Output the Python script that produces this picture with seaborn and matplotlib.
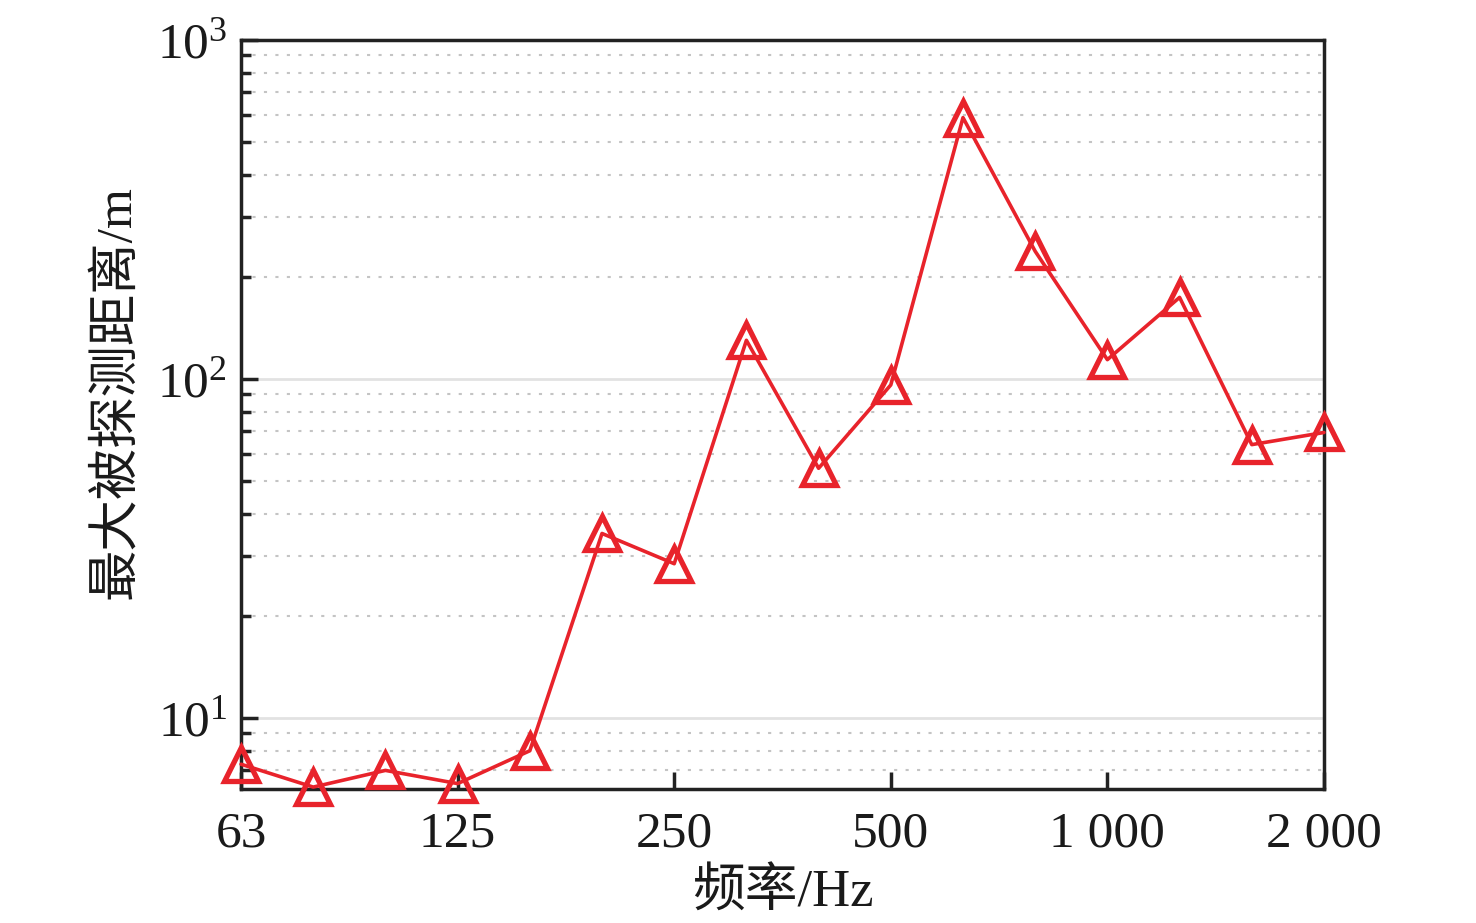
import numpy as np
import pandas as pd
import seaborn as sns
import matplotlib.pyplot as plt
from matplotlib.ticker import LogLocator, NullFormatter, FixedLocator, FixedFormatter

# DATA
freqs = ['63', '80', '100', '125', '160', '200', '250', '315', '400', '500',
         '630', '800', '1000', '1250', '1600', '2000']
distance = [7.3, 6.25, 7.0, 6.4, 8.0, 35, 28.5, 130, 54.5, 96,
            590, 238, 114, 174, 64, 69.5]
tick_pos = [0, 3, 6, 9, 12, 15]
tick_labels = ['63', '125', '250', '500', '1 000', '2 000']

df = pd.DataFrame({'idx': np.arange(len(freqs)), 'freq': freqs, 'dist': distance})

sns.set_style('white')
plt.rcParams['font.family'] = ['Liberation Serif', 'Noto Sans CJK SC']
plt.rcParams['mathtext.fontset'] = 'custom'
plt.rcParams['mathtext.rm'] = 'Liberation Serif'
plt.rcParams['mathtext.it'] = 'Liberation Serif'

fig = plt.figure(figsize=(14.76, 9.23), dpi=100)
ax = fig.add_axes([0.1633, 0.1452, 0.897 - 0.1633, 0.9567 - 0.1452])

red = '#e8232b'
sns.lineplot(data=df, x='idx', y='dist', ax=ax, color=red, linewidth=2.6,
             marker='^', markersize=25, markerfacecolor='none',
             markeredgecolor=red, markeredgewidth=3.8, clip_on=False, zorder=5)

ax.set_yscale('log')
ax.set_ylim(6.17, 1000)
ax.set_xlim(0, 15)

ax.xaxis.set_major_locator(FixedLocator(tick_pos))
ax.xaxis.set_major_formatter(FixedFormatter(tick_labels))
ax.yaxis.set_major_locator(LogLocator(base=10, numticks=10))
ax.yaxis.set_minor_locator(LogLocator(base=10, subs=np.arange(2, 10), numticks=20))
ax.yaxis.set_minor_formatter(NullFormatter())

ax.grid(True, axis='y', which='major', color='#e2e2e2', linestyle='-', linewidth=2)
ax.grid(True, axis='y', which='minor', color='#c4c4c4', linestyle=(0, (1.5, 4)), linewidth=1.5)
ax.set_axisbelow(True)

ax.tick_params(axis='both', which='both', direction='in', colors='#222222',
               labelsize=37, labelcolor='#1a1a1a')
ax.tick_params(axis='y', which='major', length=12, width=2.5, left=True, right=False, pad=10)
ax.tick_params(axis='y', which='minor', length=7, width=2.5, left=True, right=False)
ax.tick_params(axis='x', which='major', length=12, width=2.5, bottom=True, top=False, pad=16)
ax.tick_params(axis='x', which='minor', bottom=False)

for s in ax.spines.values():
    s.set_linewidth(2.5)
    s.set_color('#222222')

ax.set_xlabel('频率/Hz', fontsize=38, color='#1a1a1a', labelpad=8)
ax.set_ylabel('最大被探测距离/m', fontsize=37, color='#1a1a1a')
ax.yaxis.set_label_coords(-0.093, 0.53)

fig.savefig('out.png', dpi=100)
